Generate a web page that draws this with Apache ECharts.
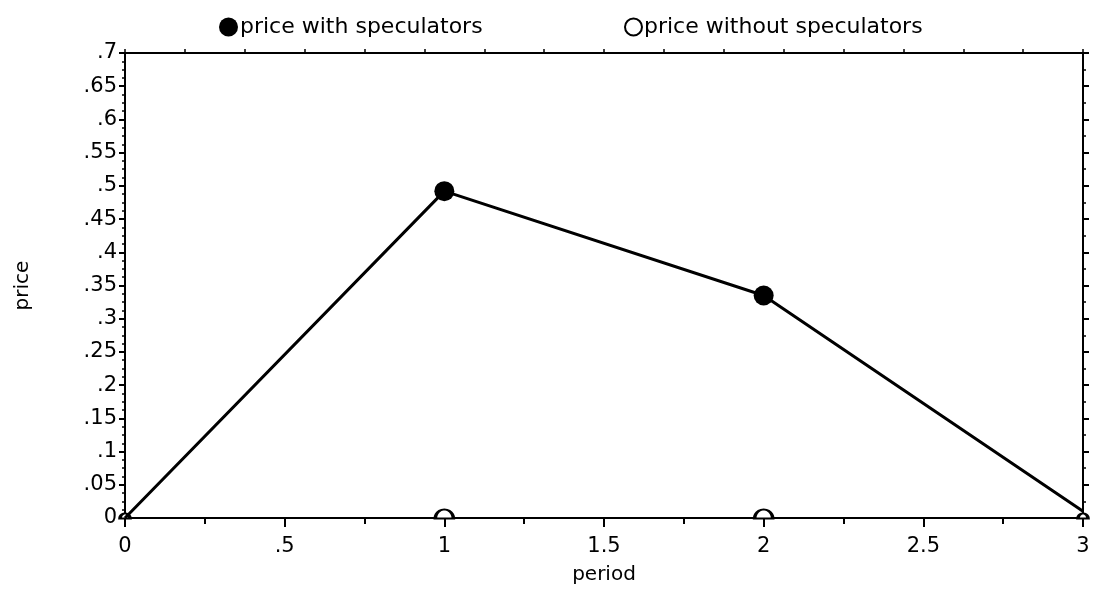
<!DOCTYPE html>
<html>
<head>
<meta charset="utf-8">
<script src="https://cdn.jsdelivr.net/npm/echarts@6/dist/echarts.min.js"></script>
<style>
  html, body { margin: 0; padding: 0; background: #fff; }
  #main { width: 1096px; height: 590px; }
</style>
</head>
<body>
<div id="main"></div>
<script>
// 数据：时期与价格
var periods = [0, 1, 2, 3];
var withSpec = [0, 0.492, 0.335, 0.01];
var withoutSpec = [0, 0, 0, 0];
var seriesNames = ['price with speculators', 'price without speculators'];

var fontName = 'DejaVu Sans';

// 去掉前导零：0.65 -> .65
function fmt(v) {
    var s = String(Math.round(v * 1000) / 1000);
    if (s.indexOf('0.') === 0) s = s.slice(1);
    return s;
}

function pairs(xs, ys) {
    var out = [];
    for (var i = 0; i < xs.length; i++) out.push([xs[i], ys[i]]);
    return out;
}

var chart = echarts.init(document.getElementById('main'));

var axisLine = { show: true, onZero: false, lineStyle: { color: '#000', width: 2 } };
var legendText = { fontFamily: fontName, fontSize: 22, color: '#000', padding: [0, 0, 0, -3] };

// 上半圆（折线近似），压在横轴上的空心点
var halfCircle = 'path://M0,10 L0.3,7.4 L1.3,5 L2.9,2.9 L5,1.3 L7.4,0.3 L10,0 L12.6,0.3 L15,1.3 L17.1,2.9 L18.7,5 L19.7,7.4 L20,10 Z';

var option = {
    animation: false,
    backgroundColor: '#fff',
    textStyle: { fontFamily: fontName, color: '#000' },
    grid: { left: 125, right: 13, top: 53, bottom: 69 },
    legend: [{
        top: 11,
        left: 214,
        itemWidth: 19,
        itemHeight: 19,
        textStyle: legendText,
        data: [{ name: seriesNames[0], icon: 'circle', itemStyle: { color: '#000' } }]
    }, {
        top: 11,
        left: 619,
        itemWidth: 17,
        itemHeight: 17,
        textStyle: legendText,
        data: [{ name: seriesNames[1], icon: 'circle', itemStyle: { color: '#fff', borderColor: '#000', borderWidth: 2 } }]
    }],
    xAxis: [{
        type: 'value',
        min: 0, max: 3, interval: 0.5,
        name: 'period',
        nameLocation: 'middle',
        nameGap: 47,
        nameTextStyle: { fontSize: 20, color: '#000' },
        axisLine: axisLine,
        axisTick: { show: true, length: 9, lineStyle: { color: '#000', width: 2 } },
        minorTick: { show: true, splitNumber: 2, length: 6, lineStyle: { color: '#000', width: 2 } },
        axisLabel: { fontSize: 21, color: '#000', margin: 18, formatter: fmt },
        splitLine: { show: false }
    }, {
        type: 'value',
        position: 'top',
        min: 0, max: 3, interval: 0.1875,
        axisLine: axisLine,
        axisTick: { show: true, inside: false, length: 4, lineStyle: { color: '#000', width: 1.5 } },
        axisLabel: { show: false },
        splitLine: { show: false }
    }],
    yAxis: [{
        type: 'value',
        min: 0, max: 0.7, interval: 0.05,
        name: 'price',
        nameLocation: 'middle',
        nameGap: 92,
        nameRotate: 90,
        nameTextStyle: { fontSize: 20, color: '#000' },
        axisLine: axisLine,
        axisTick: { show: true, length: 6, lineStyle: { color: '#000', width: 2 } },
        minorTick: { show: true, splitNumber: 4, length: 3, lineStyle: { color: '#000', width: 1.5 } },
        axisLabel: { fontSize: 21, color: '#000', margin: 8, formatter: fmt },
        splitLine: { show: false }
    }, {
        type: 'value',
        position: 'right',
        min: 0, max: 0.7, interval: 0.05,
        axisLine: axisLine,
        axisTick: { show: true, length: 6, lineStyle: { color: '#000', width: 2 } },
        minorTick: { show: true, splitNumber: 2, length: 3, lineStyle: { color: '#000', width: 1.5 } },
        axisLabel: { show: false },
        splitLine: { show: false }
    }],
    series: [{
        name: seriesNames[0],
        type: 'line',
        data: pairs(periods, withSpec),
        symbol: 'circle',
        symbolSize: function (v) { return (v[0] === 0 || v[0] === 3) ? 0 : 20; },
        itemStyle: { color: '#000' },
        lineStyle: { color: '#000', width: 3 },
        z: 3
    }, {
        name: seriesNames[1],
        type: 'line',
        data: pairs(periods, withoutSpec),
        symbol: halfCircle,
        symbolSize: function (v) { return (v[0] === 0 || v[0] === 3) ? [10, 5] : [18, 9]; },
        symbolOffset: function (v) { return (v[0] === 0 || v[0] === 3) ? [0, -2] : [0, -4]; },
        itemStyle: { color: '#fff', borderColor: '#000', borderWidth: 2.5 },
        lineStyle: { width: 0 },
        clip: false,
        z: 2
    }]
};

chart.setOption(option);
</script>
</body>
</html>
